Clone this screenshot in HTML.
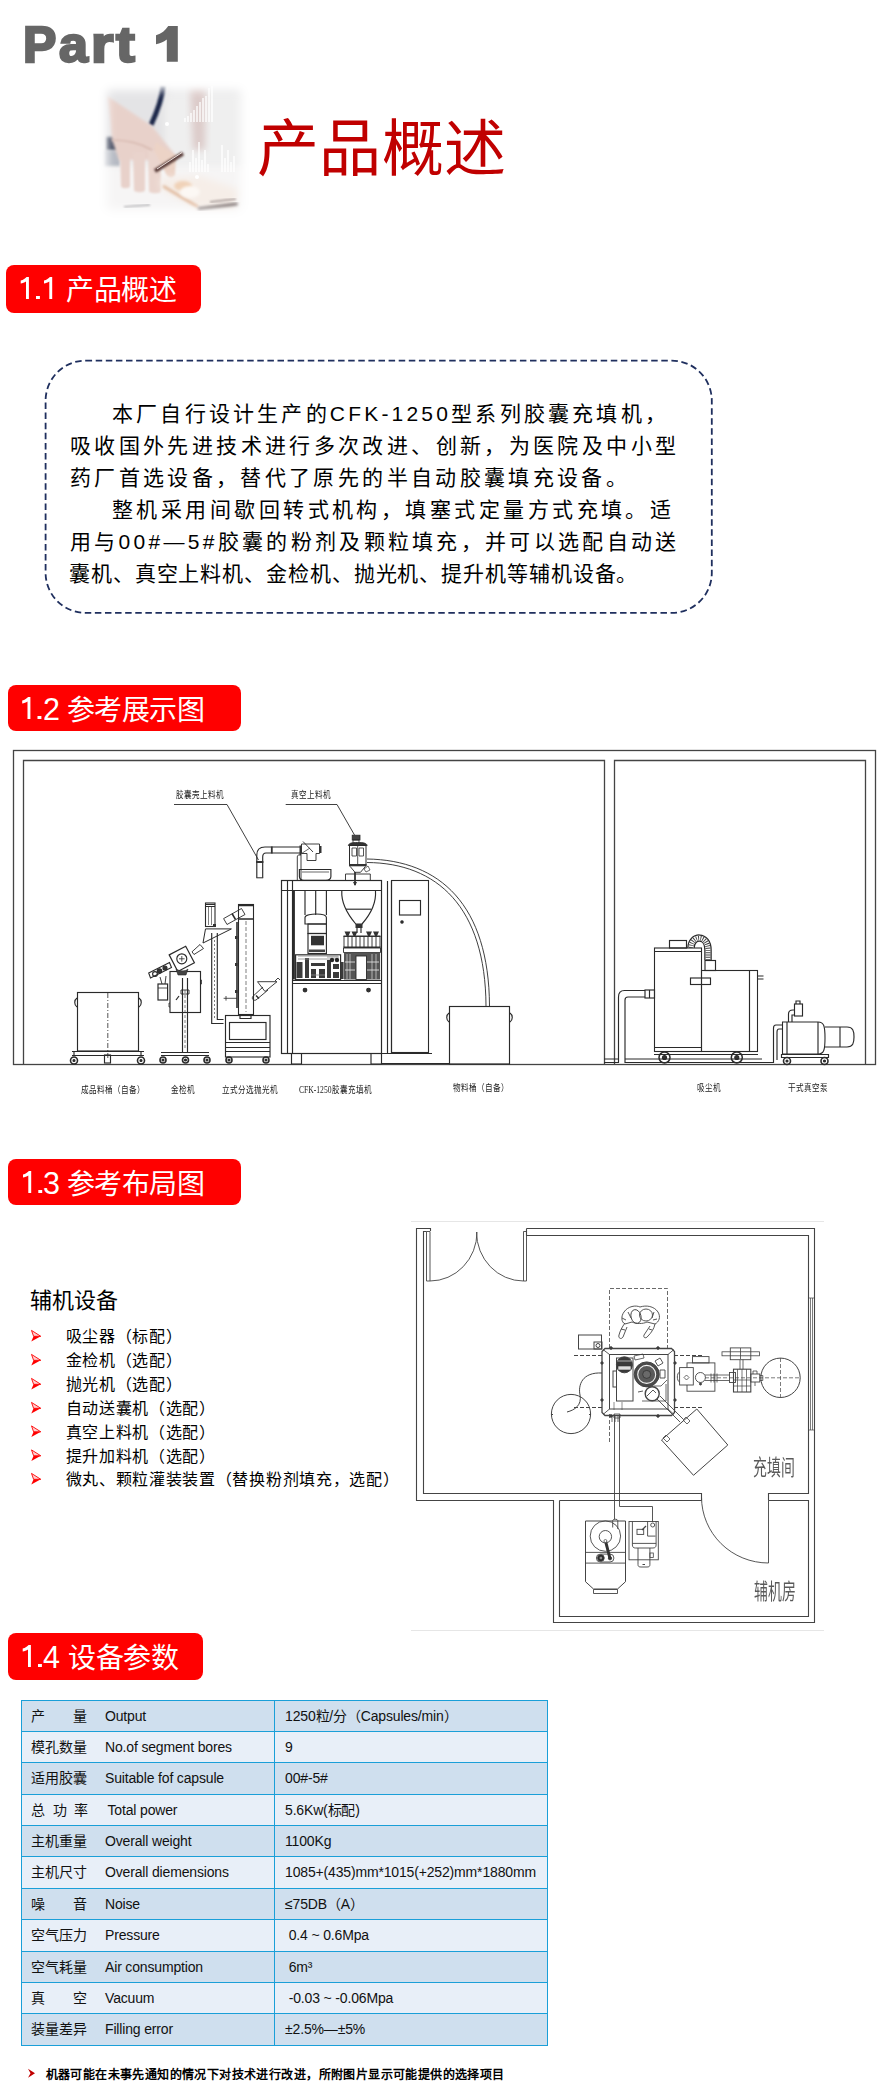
<!DOCTYPE html>
<html lang="zh-CN"><head><meta charset="utf-8">
<style>
*{margin:0;padding:0;box-sizing:border-box}
html,body{width:888px;height:2095px;background:#fff;overflow:hidden}
body{position:relative;font-family:"Liberation Sans",sans-serif;color:#000}
.abs{position:absolute}
#part{left:0;top:16px;font-size:50px;font-weight:bold;color:#666;white-space:nowrap;-webkit-text-stroke:2.4px #666}
#part span{position:absolute;top:0}
#photo{left:100px;top:84px;width:146px;height:132px}
#title{left:257px;top:99px;font-size:62px;color:#c00000;white-space:nowrap;letter-spacing:0.3px}
.tag{position:absolute;background:#ff0000;color:#fff;border-radius:8px;white-space:nowrap}
.tag b{position:absolute;top:3.5px;font-weight:normal;font-size:30.5px;line-height:40px}
.tag i{position:absolute;top:6px;font-style:normal;font-size:28px;line-height:40px;letter-spacing:-0.6px}
#intro{left:45px;top:360px;width:667px;height:253px;border:1.5px dashed #2c4775;border-radius:42px}
.pl{position:absolute;font-size:21px;line-height:32px;letter-spacing:3.2px;color:#000;white-space:nowrap}
.lb{position:absolute;font-family:"Liberation Serif",serif;font-size:9.5px;line-height:12px;color:#1a1a1a;white-space:nowrap;transform:scaleX(0.8);transform-origin:0 0}
.rm{position:absolute;font-family:"Liberation Serif",serif;font-size:22px;font-weight:300;line-height:26px;color:#5a5a5a;white-space:nowrap;transform:scaleX(0.63);transform-origin:0 0}
.li{position:absolute;font-weight:350;left:65.5px;margin-top:1px;font-size:16px;line-height:24px;letter-spacing:0.7px;white-space:nowrap;color:#000}
.tr{position:absolute;left:21px;width:527px;font-size:14px;letter-spacing:-0.16px;white-space:nowrap;color:#111}
.tr span{position:absolute;top:0;line-height:inherit}
.c1{left:10px}.c2{left:84px}.c3{left:264px}
.hl{position:absolute;left:21px;width:527px;height:1px;background:#1a9fd8}
.vl{position:absolute;top:1700px;width:1px;height:346px;background:#1a9fd8}
</style></head><body>
<div id="part" class="abs"><span style="left:23px">P</span><span style="left:58.5px;transform:scaleX(1.04);transform-origin:left">a</span><span style="left:90.5px;transform:scaleX(1.15);transform-origin:left">r</span><span style="left:116px;transform:scaleX(1.13);transform-origin:left">t</span></div>
<svg class="abs" style="left:95px;top:80px" width="160" height="140" viewBox="95 80 160 140">
<defs>
<filter id="b1" x="-30%" y="-30%" width="160%" height="160%"><feGaussianBlur stdDeviation="5"/></filter>
<filter id="b2" x="-30%" y="-30%" width="160%" height="160%"><feGaussianBlur stdDeviation="1.6"/></filter>
<filter id="b3" x="-30%" y="-30%" width="160%" height="160%"><feGaussianBlur stdDeviation="0.8"/></filter>
<filter id="b4" x="-30%" y="-30%" width="160%" height="160%"><feGaussianBlur stdDeviation="3.5"/></filter>
<mask id="m1"><rect x="95" y="80" width="160" height="140" fill="#000"/><rect x="107" y="90" width="134" height="120" rx="4" fill="#fff" filter="url(#b1)"/></mask>
</defs>
<g mask="url(#m1)">
<rect x="95" y="80" width="160" height="140" fill="#ebebec"/>
<rect x="100" y="84" width="70" height="60" fill="#e4e4e6" filter="url(#b4)"/>
<rect x="165" y="95" width="80" height="70" fill="#efefef" filter="url(#b4)"/>
<rect x="100" y="165" width="150" height="55" fill="#f6f5f5" filter="url(#b4)"/>
<!-- arm top right -->
<path d="M190 86L206 86L205 150L193 150Z" fill="#dccbc9" filter="url(#b4)"/>
<!-- teal line top right -->
<path d="M214 95H241" stroke="#7d98a4" stroke-width="2.5" filter="url(#b3)"/>
<!-- sleeve dark -->
<rect x="106" y="137" width="12" height="14" fill="#3a4258" filter="url(#b2)"/>
<rect x="104" y="150" width="16" height="16" fill="#b5b9c2" filter="url(#b2)"/>
<!-- navy stripe -->
<path d="M163 86C162 100 157 112 151 125" stroke="#1b2848" stroke-width="5" fill="none" filter="url(#b3)"/>
<!-- hand -->
<path d="M107 96L152 126L176 156L170 166L150 160L130 160L119 160L112 140L110 118Z" fill="#e8d1ca" filter="url(#b2)"/>
<path d="M120 150L130 150L130 186C130 189 121 189 121 186Z" fill="#e8d1ca" filter="url(#b3)"/>
<path d="M133 152L145 152L145 190C145 193 134 193 134 190Z" fill="#e9d3cc" filter="url(#b3)"/>
<path d="M148 150L161 152L161 191C161 194 149 194 149 191Z" fill="#ead5ce" filter="url(#b3)"/>
<path d="M156 142L176 156L175 175C172 179 168 178 166 174L154 150Z" fill="#ecd3c6" filter="url(#b3)"/>
<path d="M112 140C125 140 140 143 152 150" stroke="#d7b9b0" stroke-width="1.5" fill="none" filter="url(#b3)"/>
<!-- pen -->
<path d="M155 171L183 153.5" stroke="#5a3d3a" stroke-width="4" filter="url(#b3)"/>
<path d="M157 169L182 152.5" stroke="#e8dcd8" stroke-width="1"/>
<!-- tablet glow -->
<path d="M160 178L200 176L240 190L235 210L200 210L162 190Z" fill="#f6eee8" filter="url(#b4)"/>
<path d="M163 186L198 207" stroke="#dcae8c" stroke-width="2.2" filter="url(#b2)"/>
<ellipse cx="183" cy="186" rx="9" ry="5" fill="#f0d2b8" filter="url(#b2)"/>
<ellipse cx="190" cy="192" rx="10" ry="6" fill="#fcf8f4" filter="url(#b2)"/>
<path d="M198 209L238 204" stroke="#6e6262" stroke-width="3" filter="url(#b2)"/>
<path d="M210 202L236 199" stroke="#9a8c8a" stroke-width="1.5" filter="url(#b3)"/>
<path d="M124 207L150 205" stroke="#9a9a9e" stroke-width="1.5" filter="url(#b3)"/>
<!-- chart bars -->
<g stroke="#fff" stroke-width="1.3">
<path d="M185 122V118M188 122V116M191 122V113M194 122V110M197 122V106M200 122V102M203 122V98M206 122V96M209 122V88M212 122V86"/>
<path d="M190 172V162M193 172V150M196 172V158M199 172V142M202 172V160M205 172V150M208 172V164M222 172V145M225 172V158M228 172V150M231 172V162M234 172V156"/>
</g>
<circle cx="167" cy="124" r="2" fill="#fff"/><circle cx="197" cy="177" r="2" fill="#fff"/>
</g>
</svg>

<svg class="abs" style="left:150px;top:20px" width="40" height="50" viewBox="150 20 40 50"><path d="M177.8 26V61.8H166.8V39.5C163.5 42 160 43.2 156 44.2V35.2C161.5 33.5 165.5 30.5 168.2 26Z" fill="#666"/></svg>
<div id="title" class="abs">产品概述</div>

<svg class="abs" style="left:0;top:0" width="888" height="700"><rect x="45.6" y="360.6" width="666.2" height="252.3" rx="40" fill="none" stroke="#1f2f5e" stroke-width="1.8" stroke-dasharray="6.5 3.6"/></svg>
<div class="pl" style="left:112px;top:398px">本厂自行设计生产的CFK-1250型系列胶囊充填机，</div>
<div class="pl" style="left:70px;top:430px;letter-spacing:3.37px">吸收国外先进技术进行多次改进、创新，为医院及中小型</div>
<div class="pl" style="left:70px;top:462px;letter-spacing:3.35px">药厂首选设备，替代了原先的半自动胶囊填充设备。</div>
<div class="pl" style="left:112px;top:494px;letter-spacing:3.45px">整机采用间歇回转式机构，填塞式定量方式充填。适</div>
<div class="pl" style="left:70px;top:526px;letter-spacing:3.3px">用与00#—5#胶囊的粉剂及颗粒填充，并可以选配自动送</div>
<div class="pl" style="left:69px;top:558px;letter-spacing:0.9px">囊机、真空上料机、金检机、抛光机、提升机等辅机设备。</div>


<div class="tag" style="left:6px;top:265px;width:195px;height:48px"><svg style="position:absolute;left:0;top:0" width="60" height="48"><path d="M22.9 12V34H20.0V16.6C18.5 17.6 16.5 18.3 14.7 18.6V15.6C17.3 14.8 19.3 13.6 20.6 12Z M46.2 12V34H43.3V16.6C41.8 17.6 39.8 18.3 38.0 18.6V15.6C40.6 14.8 42.6 13.6 43.9 12Z M30.0 30.9h3.9v3.1h-3.9z" fill="#fff"/></svg><i style="left:60.4px">产品概述</i></div>
<div class="tag" style="left:8.4px;top:685.4px;width:232.3px;height:46px"><svg style="position:absolute;left:0;top:0" width="60" height="48"><path d="M22.4 12V34H19.5V16.6C18.0 17.6 16.0 18.3 14.200000000000001 18.6V15.6C16.8 14.8 18.8 13.6 20.1 12Z M29.5 30.9h3.9v3.1h-3.9z" fill="#fff"/></svg><b style="left:34.5px">2</b><i style="left:58.6px">参考展示图</i></div>
<div class="tag" style="left:7.6px;top:1159.3px;width:233.1px;height:46.2px"><svg style="position:absolute;left:0;top:0" width="60" height="48"><path d="M23.2 12V34H20.3V16.6C18.8 17.6 16.8 18.3 15.000000000000002 18.6V15.6C17.6 14.8 19.6 13.6 20.9 12Z M30.3 30.9h3.9v3.1h-3.9z" fill="#fff"/></svg><b style="left:35.3px">3</b><i style="left:59.4px">参考布局图</i></div>
<div class="tag" style="left:7.9px;top:1633.4px;width:195.4px;height:47.1px"><svg style="position:absolute;left:0;top:0" width="60" height="48"><path d="M22.9 12V34H20.0V16.6C18.5 17.6 16.5 18.3 14.700000000000001 18.6V15.6C17.3 14.8 19.3 13.6 20.6 12Z M30.0 30.9h3.9v3.1h-3.9z" fill="#fff"/></svg><b style="left:35.0px">4</b><i style="left:60.5px">设备参数</i></div>
<div class="abs" style="left:29.5px;top:1286px;font-weight:350;font-size:22px;line-height:30px;white-space:nowrap;color:#000">辅机设备</div>
<div class="li" style="top:1324px">吸尘器（标配）</div>
<div class="li" style="top:1348px">金检机（选配）</div>
<div class="li" style="top:1372px">抛光机（选配）</div>
<div class="li" style="top:1396px">自动送囊机（选配）</div>
<div class="li" style="top:1419.5px">真空上料机（选配）</div>
<div class="li" style="top:1443.5px">提升加料机（选配）</div>
<div class="li" style="top:1467px">微丸、颗粒灌装装置（替换粉剂填充，选配）</div>
<svg class="abs" style="left:0;top:1300px" width="60" height="200"><path d="M31.5 30.4L40.8 36.3L33.6 36.3Z" fill="#ffd0d0" stroke="#ff0000" stroke-width="0.9" stroke-linejoin="round"/><path d="M33.6 36.3L40.8 36.3L31.3 41.5Z" fill="#ff0000"/><path d="M31.5 54.4L40.8 60.3L33.6 60.3Z" fill="#ffd0d0" stroke="#ff0000" stroke-width="0.9" stroke-linejoin="round"/><path d="M33.6 60.3L40.8 60.3L31.3 65.5Z" fill="#ff0000"/><path d="M31.5 78.4L40.8 84.3L33.6 84.3Z" fill="#ffd0d0" stroke="#ff0000" stroke-width="0.9" stroke-linejoin="round"/><path d="M33.6 84.3L40.8 84.3L31.3 89.5Z" fill="#ff0000"/><path d="M31.5 102.4L40.8 108.3L33.6 108.3Z" fill="#ffd0d0" stroke="#ff0000" stroke-width="0.9" stroke-linejoin="round"/><path d="M33.6 108.3L40.8 108.3L31.3 113.5Z" fill="#ff0000"/><path d="M31.5 125.9L40.8 131.8L33.6 131.8Z" fill="#ffd0d0" stroke="#ff0000" stroke-width="0.9" stroke-linejoin="round"/><path d="M33.6 131.8L40.8 131.8L31.3 137.0Z" fill="#ff0000"/><path d="M31.5 149.9L40.8 155.8L33.6 155.8Z" fill="#ffd0d0" stroke="#ff0000" stroke-width="0.9" stroke-linejoin="round"/><path d="M33.6 155.8L40.8 155.8L31.3 161.0Z" fill="#ff0000"/><path d="M31.5 173.4L40.8 179.3L33.6 179.3Z" fill="#ffd0d0" stroke="#ff0000" stroke-width="0.9" stroke-linejoin="round"/><path d="M33.6 179.3L40.8 179.3L31.3 184.5Z" fill="#ff0000"/></svg>
<svg class="abs" style="left:0;top:2060px" width="50" height="30"><path d="M28 8.8 L35 13.2 L28 17.8 L30.5 13.2Z" fill="#c00000"/></svg>
<div class="abs" style="left:45.5px;top:2065.5px;font-size:12px;letter-spacing:0.41px;line-height:18px;font-weight:bold;white-space:nowrap;color:#000">机器可能在未事先通知的情况下对技术进行改进，所附图片显示可能提供的选择项目</div>
<svg class="abs" style="left:0;top:740px" width="888" height="370" viewBox="0 740 888 370" fill="none" stroke="#2a2a2a" stroke-width="1.15">
<!-- frames -->
<rect x="13.5" y="750.5" width="862" height="314" stroke="#444" stroke-width="1.3"/>
<path d="M23.5 1064.5V760.5H604.5V1064.5M614.5 1064.5V760.5H865.5V1064.5" stroke="#444" stroke-width="1.3"/>
<!-- label lines -->
<path d="M174 804.5H227L258.5 860M285.7 804.5H337L354.5 835" stroke-width="0.9"/>
<!-- bin 成品料桶 -->
<rect x="77.5" y="992.5" width="61" height="58.5"/>
<path d="M107.8 993V1058" stroke-dasharray="5 2 1 2" stroke-width="0.8"/>
<path d="M77 998c-3 2-3 7 0 9M139 998c3 2 3 7 0 9"/>
<path d="M72 1051.5H144M72 1055.5H144M74 1051v5M141 1051v5"/>
<circle cx="74" cy="1060.5" r="3.5" stroke-width="1.6"/><circle cx="74" cy="1060.5" r="1" fill="#222"/><circle cx="141" cy="1060.5" r="3.5" stroke-width="1.6"/><circle cx="141" cy="1060.5" r="1" fill="#222"/><rect x="104.5" y="1055" width="6" height="8"/>
<!-- metal detector 金检机 -->
<rect x="170" y="971.5" width="30.5" height="41"/>
<path d="M170 1003h-1v4h1M200.5 980h1v4h-1" stroke-width="0.8"/>
<path d="M182.5 978V1052M187.5 978V1052" />
<path d="M185 990V1050" stroke-dasharray="3 2" stroke-width="0.6"/>
<path d="M181 990h8v4h-8z" stroke-width="0.9"/>
<path d="M179 996l-3 4" stroke-width="1.2"/>
<path d="M161 1052.5H209M161 1055.5H209"/>
<circle cx="163" cy="1060" r="3" stroke-width="1.6"/><circle cx="163" cy="1060" r="1" fill="#222"/><circle cx="207" cy="1060" r="3" stroke-width="1.6"/><circle cx="207" cy="1060" r="1" fill="#222"/><circle cx="185.5" cy="1060" r="3" stroke-width="1.6"/><circle cx="185.5" cy="1060" r="1" fill="#222"/>
<path d="M169.2 954.9L185.7 946.2L194.4 962.8L177.8 971.5Z" stroke-width="1.2"/>
<circle cx="181.8" cy="958.8" r="5"/><path d="M179 958.8h5.6M181.8 956v5.6" stroke-width="0.8"/>
<path d="M148.7 973L169.5 962.5L171.5 967.5L150.5 978Z" stroke-width="1.1"/>
<circle cx="159.5" cy="971" r="2.2" fill="#333"/><circle cx="165" cy="968" r="2" fill="#333"/><circle cx="155" cy="974" r="2.4"/>
<path d="M176 969c3 2 9 3 12 0l-2 6h-8z" fill="#444" stroke-width="0.6"/>
<path d="M160 977l2 7M166 976l-1 8" stroke-width="0.9"/>
<rect x="158" y="984" width="9.6" height="16" stroke-width="1.2"/><path d="M158 988h9.6" stroke-width="0.8"/>
<path d="M192 951.8L200 944.5L203.5 948.5L194 954.5Z" stroke-width="0.9"/>
<!-- polisher 立式分选抛光机 -->
<rect x="205.5" y="903" width="9.5" height="23.5" stroke-width="1.1"/>
<path d="M205.5 904.5h9.5M205.5 906.5h9.5" stroke-width="1.2"/>
<path d="M208.5 907V925M211.5 907V925" stroke-width="0.6"/>
<rect x="213" y="924" width="3" height="3" fill="#333" stroke="none"/>
<path d="M203 943L231.4 928.9H205.5L203 943" stroke-width="1"/>
<path d="M211.7 933V1023.5H223.5M217.3 933V1019.5H223.5"/>
<path d="M214.5 940V1018" stroke-dasharray="2 2" stroke-width="0.6"/>
<rect x="238.5" y="904.5" width="15" height="110" stroke-width="1.1"/>
<path d="M238.5 905.5h15M238.5 919h15" stroke-width="1.6"/>
<path d="M246 921V1012" stroke-dasharray="4 2" stroke-width="0.6"/>
<path d="M237 922V1008" stroke-width="2" stroke="#555"/>
<rect x="235" y="936" width="2.5" height="3" fill="#333" stroke="none"/><rect x="235" y="963" width="2.5" height="3" fill="#333" stroke="none"/><rect x="235" y="990" width="2.5" height="3" fill="#333" stroke="none"/>
<path d="M240 1014.5v4h11v-4" />
<path d="M223.6 918.6L241.5 908.5L245 914.5L227 924.5Z" stroke-width="0.9"/>
<path d="M232 913.5l3.5 6" stroke-width="1.5"/>
<path d="M223.6 998.3H237M226 996v4.6" stroke-width="0.8"/>
<path d="M257.5 981.7H277L265 991.5Z" stroke-width="0.9"/>
<path d="M263 987L252.7 996.5C251.5 999 253.5 1001 256 1000L268 990" stroke-width="0.9"/>
<path d="M256 995.5l3 3" stroke-width="1.4"/>
<path d="M275 981l3 -3l2 2" stroke-width="0.9"/>
<rect x="225.5" y="1015.5" width="44.5" height="41.5"/>
<rect x="229.5" y="1022.5" width="36.5" height="17"/>
<path d="M225.5 1042.5H270M225.5 1047.5H270M225.5 1051.5H270"/>
<circle cx="229" cy="1060" r="3" stroke-width="1.6"/><circle cx="229" cy="1060" r="1" fill="#222"/><circle cx="266" cy="1060" r="3" stroke-width="1.6"/><circle cx="266" cy="1060" r="1" fill="#222"/>
<!-- main machine CFK-1250 -->
<rect x="281.5" y="880.5" width="100" height="173" stroke-width="1.2"/>
<path d="M287.5 881V1053M292.5 881V1053M282 890.5H381M293 980.5H381M293 983.5H381"/>
<path d="M387.5 881V1053M391.5 881V1053"/>
<rect x="391.5" y="880.5" width="37" height="172" stroke-width="1.1"/>
<rect x="399.5" y="900.5" width="21" height="14.5"/>
<circle cx="402" cy="922" r="1.2" fill="#333"/>
<circle cx="305" cy="990" r="1.8" fill="#333"/><circle cx="368.5" cy="990" r="1.8" fill="#333"/>
<path d="M291.5 1053.5v10.5h10v-10.5M371 1053.5v10.5h10.5v-10.5M382 1053.5h50"/>
<!-- hopper -->
<path d="M341.8 891C341 905 349 916 355.8 924H362C369 916 376.5 905 375.5 891"/>
<path d="M346 909.2H371"/>
<rect x="355.5" y="924" width="7" height="4" fill="#333" stroke="none"/>
<path d="M357 928V933M361 928V933"/>
<!-- dosing -->
<g fill="#333" stroke="none">
<path d="M344.5 931.5h6l-2 4.5h-2z"/><path d="M351.5 931.5h6l-2 4.5h-2z"/><path d="M366 931.5h6l-2 4.5h-2z"/><path d="M373 931.5h6l-2 4.5h-2z"/>
<rect x="343.5" y="935.5" width="37" height="1.5"/>
<rect x="343.5" y="946.5" width="37" height="1.5"/>
</g>
<path d="M344 936V947.5M348 936V947.5M352 936V947.5M356 936V947.5M360 936V947.5M364 936V947.5M368 936V947.5M372 936V947.5M376 936V947.5M380 936V947.5" stroke-width="0.9"/>
<path d="M343.5 948h37v4.5h-37z" stroke-width="0.9"/>
<rect x="344" y="952.5" width="36" height="27" fill="#555" stroke="none"/>
<rect x="356" y="956" width="10.5" height="23.5" fill="#fff" stroke-width="0.9"/>
<path d="M347 954v25M350 954v25M372 954v25M376 954v25" stroke="#ddd" stroke-width="0.7"/>
<path d="M345 962h10M367 962h12M345 970h10M367 970h12" stroke="#eee" stroke-width="0.8"/>
<!-- left mechanism -->
<path d="M293.9 891V979.5" stroke-width="2"/>
<path d="M305 891V915M315.7 891V915M326.4 891V915"/>
<path d="M305 924V917.5C305 915 312 914 316 914C321 914 326.4 915 326.4 917.5V924Z"/>
<rect x="308" y="924" width="18.4" height="9.5"/>
<rect x="308" y="933.5" width="18.4" height="20"/>
<rect x="311" y="935.8" width="13" height="9.5" fill="#333" stroke="none"/>
<rect x="309" y="949.5" width="16" height="2.5" fill="#444" stroke="none"/>
<rect x="295.6" y="954.8" width="45" height="24.8" fill="#fff"/>
<g fill="#3a3a3a" stroke="none">
<rect x="296.5" y="962" width="6" height="16"/>
<rect x="305" y="958" width="4" height="20"/>
<rect x="311" y="963" width="14" height="3"/>
<rect x="311" y="969" width="5" height="9"/>
<rect x="319" y="969" width="6" height="9"/>
<rect x="327" y="960" width="4" height="18"/>
<rect x="333" y="964" width="6" height="5"/>
<rect x="333" y="972" width="6" height="6"/>
<rect x="340.6" y="962" width="3" height="17"/>
</g>
<path d="M298 956h40M298 959h40M311 975h14M327 957h12" stroke="#888" stroke-width="0.8"/>
<circle cx="332" cy="960" r="1.6" fill="#222"/><circle cx="337" cy="960" r="1.6" fill="#222"/>
<!-- vacuum loader -->
<rect x="352.2" y="835.2" width="7.8" height="4.8" fill="#444" stroke-width="0.8"/>
<path d="M353 840h6v4h-6z" stroke-width="0.8"/>
<path d="M348.3 845.5C349 843 352 842.5 357.7 842.5C363.5 842.5 366.5 843 367.2 845.5Z" fill="#333" stroke-width="0.8"/>
<rect x="349.5" y="845.5" width="16.5" height="19.7" stroke-width="1"/>
<path d="M352 848h4.5v8h-4.5zM359 848h4.5v8h-4.5zM357.7 846v19" stroke-width="0.8"/>
<rect x="349" y="864" width="17.5" height="2.3" fill="#333" stroke="none"/>
<path d="M350 866.3L355 872.3H360.5L365.5 866.3" stroke-width="0.9"/>
<path d="M364 869l4 -3l2 4l-4 2z" stroke-width="0.7"/>
<path d="M345.5 874h24.8v6.5h-24.8z" stroke-width="0.9"/>
<path d="M355 872V885" stroke-width="1.8" stroke="#333"/>
<path d="M353 882l2 4l2 -4z" fill="#333" stroke="none"/>
<!-- capsule feeder -->
<path d="M256.8 877.8V855C256.8 850 260 847 265 847H301M262.7 877.8V857C262.7 854.5 263.5 853 266 853H301"/>
<path d="M256.3 877.8H263.2" stroke-width="1"/>
<path d="M256 862h7.4" stroke-width="2" stroke="#333"/>
<path d="M271.8 846.5v7" stroke-width="1.8" stroke="#333"/>
<path d="M300.5 845.5v9.5" stroke-width="2" stroke="#333"/>
<path d="M301.5 844H319.5V853.5H316V860.5H307V853.5H301.5Z" stroke-width="0.9"/>
<path d="M303 841.5L313 852" stroke-width="0.9"/>
<path d="M301.5 853.5L310 848" stroke-width="0.7"/>
<path d="M320.5 846v7" stroke-width="2" stroke="#333"/>
<path d="M297.3 880V857C297.3 855.5 298 855 299 855H301V880" stroke-width="0.9"/>
<path d="M299.4 869.5H330.9V876.5C330.9 879 329 880.2 326 880.2H304C301 880.2 299.4 879 299.4 876.5Z"/>
<path d="M302 872h27" stroke-width="0.7"/>
<!-- hose to material bin -->
<path d="M367 859C440 860 489 905 489.5 1006M367 862.5C437 863 485.5 907 486 1006" stroke-width="0.9"/>
<!-- material bin -->
<rect x="449.5" y="1006.5" width="60" height="57.5"/>
<path d="M449 1013c-3 2-3 7 0 9M510 1013c3 2 3 7 0 9"/>
<path d="M382 1063.5H449"/>
<!-- dust collector -->
<rect x="654.5" y="948" width="47" height="103.5" stroke-width="1.1"/>
<path d="M654.5 951.5H701.5M654.5 1047.5H701.5"/>
<rect x="669.5" y="940.5" width="17" height="7.5"/>
<rect x="701.5" y="970.5" width="56" height="81" stroke-width="1.1"/>
<path d="M749.5 971V1051M757.5 976h6M757.5 979h6"/>
<rect x="690.5" y="978" width="20" height="6.5"/>
<path d="M691 948C691 935 708 934 708 950V960" stroke="#2a2a2a" stroke-width="7.5"/>
<path d="M691 948C691 935 708 934 708 950V960" stroke="#fff" stroke-width="5"/>
<path d="M691 948C691 935 708 934 708 950V960" stroke="#444" stroke-width="5" stroke-dasharray="0.9 1.3"/>
<rect x="705" y="960.5" width="10.5" height="10"/>
<path d="M654 1051.5h104M654 1054.5h104"/>
<circle cx="664.5" cy="1057.5" r="5.5" stroke-width="1.5"/><circle cx="664.5" cy="1057.5" r="2" fill="#333"/>
<circle cx="736.8" cy="1057.5" r="5.5" stroke-width="1.5"/><circle cx="736.8" cy="1057.5" r="2" fill="#333"/>
<!-- pipe from left to dust collector -->
<path d="M618.5 1063V997C618.5 993 620.5 990.5 624.5 990.5H645M625 1063V1000C625 998 626 997 628 997H645"/>
<rect x="645" y="990" width="9.5" height="8"/><path d="M649.5 990v8"/>
<path d="M604 1062.5h14M625 1062.5H773.5M604 1059h14M625 1059H762"/>
<!-- vacuum pump -->
<path d="M782.5 1022H818C824 1022 825 1026 825 1038C825 1050 824 1054 818 1054H782.5Z" stroke-width="1.1"/>
<path d="M818 1022V1054M787 1022V1054"/>
<path d="M825 1027H847C853 1027 854 1031 854 1037C854 1043 853 1047 847 1047H825"/>
<path d="M840 1027V1047"/>
<path d="M781.5 1054.5h47v3h-47z"/>
<circle cx="787" cy="1061" r="3.5" stroke-width="1.6"/><circle cx="787" cy="1061" r="1" fill="#222"/><circle cx="824.5" cy="1061" r="3.5" stroke-width="1.6"/><circle cx="824.5" cy="1061" r="1" fill="#222"/>
<rect x="794.5" y="1004" width="8" height="12"/>
<path d="M796 1004v-3h4v3M788.5 1022V1014C788.5 1011 790 1010 793 1010H795M792 1022V1015h3"/>
<path d="M782.5 1025H776C774 1025 773.5 1026 773.5 1028V1063M782.5 1029H779C777.5 1029 777 1030 777 1032V1060" />
</svg>
<div class="lb" style="left:176.2px;top:789px">胶囊壳上料机</div>
<div class="lb" style="left:290.7px;top:789px">真空上料机</div>
<div class="lb" style="left:80.5px;top:1083.5px">成品料桶（自备）</div>
<div class="lb" style="left:171.2px;top:1083.5px">金检机</div>
<div class="lb" style="left:221.8px;top:1083.5px">立式分选抛光机</div>
<div class="lb" style="left:298.6px;top:1083.5px">CFK-1250胶囊充填机</div>
<div class="lb" style="left:452.6px;top:1082px">物料桶（自备）</div>
<div class="lb" style="left:696.7px;top:1082px">吸尘机</div>
<div class="lb" style="left:787.9px;top:1082px">干式真空泵</div>
<div class="rm" style="left:753px;top:1455px">充填间</div>
<div class="rm" style="left:754px;top:1579px">辅机房</div>
<svg class="abs" style="left:400px;top:1210px" width="440" height="430" viewBox="400 1210 440 430" fill="none" stroke="#444" stroke-width="1">
<path d="M411 1221.5H824M411 1630.5H824" stroke="#e6e6e6"/>
<!-- walls upper room -->
<path d="M526.5 1228.5H814.5V1622.5H553.5V1500.5H416.5V1228.5H430.5V1231" stroke-width="1.1"/>
<path d="M526.5 1228.5V1235.5H808.5V1493.5H768.5V1500.5M701.5 1500.5V1493.5H423.5V1231.5H426.5" stroke-width="1.1"/>
<path d="M559.5 1500.5H701.5M768.5 1500.5H808.5V1616.5H559.5V1500.5" stroke-width="1.1"/>
<!-- window right -->
<path d="M810.5 1298V1430M812.5 1298V1430M808.5 1298H814.5M808.5 1430H814.5" stroke-width="0.7"/>
<!-- door top -->
<path d="M426.5 1231.5V1281H430V1231.5ZM523.5 1231.5V1281H526.5V1231.5Z" stroke-width="0.9"/>
<path d="M430 1281A47 49 0 0 0 477 1232M523.5 1281A47 49 0 0 1 476.5 1232" stroke-width="0.9"/>
<!-- door lower -->
<path d="M768.5 1500.5V1563M701.5 1497A67 66 0 0 0 768.5 1563" stroke-width="0.9"/>
<!-- operator dashed area -->
<path d="M609.5 1348V1288.5H667.5V1348" stroke-dasharray="4 2" stroke-width="0.8"/>
<!-- operator figure -->
<g stroke-width="0.9">
<path d="M624 1312C628 1306 636 1305 640 1307C646 1305 654 1306 658 1312C661 1317 659 1322 655 1324L647 1322C643 1324 636 1324 632 1322L625 1324C621 1322 621 1316 624 1312Z"/>
<ellipse cx="636" cy="1316.5" rx="5" ry="7" transform="rotate(-15 636 1316.5)"/><ellipse cx="646" cy="1315" rx="6.5" ry="6"/>
<path d="M628 1312l3 6M654 1312l-2 6M622 1318l4 2M657 1319l-4 1"/>
<path d="M625 1323C622 1327 620 1331 619 1335C618 1338 621 1340 623 1337L627 1327"/>
<path d="M655 1324C654 1329 651 1333 648 1336C646 1339 643 1338 644 1335L650 1326"/>
<path d="M621 1329l4 1M652 1330l-3 -1"/>
</g>
<!-- small box top-left -->
<rect x="578.5" y="1335" width="23" height="14"/>
<rect x="594" y="1342" width="8" height="7"/><circle cx="598" cy="1345.5" r="2"/>
<!-- dashed horizontals -->
<path d="M574 1355.5H602M674 1355.5H703M574 1407.5H602M674 1407.5H703" stroke-dasharray="4 2" stroke-width="1"/>
<path d="M609.5 1414V1444" stroke-dasharray="4 2" stroke-width="0.8"/>
<!-- machine square -->
<path d="M605 1348.5H671.5L674.5 1351.5V1412.5L671.5 1415.5H605L602 1412.5V1351.5Z" stroke-width="1.3"/>
<rect x="609.5" y="1354.5" width="58.5" height="54.5" stroke-width="1"/>
<path d="M603 1349.5L609.5 1354.5M674 1349.5L668 1354.5M603 1414.5L609.5 1409M674 1414.5L668 1409" stroke-width="0.9"/>
<circle cx="611" cy="1348" r="1.3" fill="#333"/><circle cx="658" cy="1348" r="1.3" fill="#333"/><circle cx="602" cy="1363" r="1.2" fill="#333"/><circle cx="675" cy="1363" r="1.2" fill="#333"/><circle cx="602" cy="1400" r="1.2" fill="#333"/><circle cx="675" cy="1400" r="1.2" fill="#333"/><circle cx="611" cy="1416" r="1.3" fill="#333"/><circle cx="658" cy="1416" r="1.3" fill="#333"/>
<rect x="616.5" y="1358" width="16.5" height="43"/>
<rect x="613" y="1371" width="3.5" height="16"/>
<circle cx="624.4" cy="1364.8" r="8" fill="#3a3a3a" stroke-width="1"/>
<path d="M618 1366h13v4h-13z" fill="#ddd" stroke="#333" stroke-width="0.6"/>
<path d="M617.5 1361h14" stroke="#ccc" stroke-width="0.8"/>
<path d="M634 1356l9 -2l1 4l-9 2z" stroke-width="0.8"/>
<circle cx="646.7" cy="1374.4" r="12.5" fill="#4a4a4a" stroke-width="1"/>
<circle cx="646.7" cy="1374.4" r="9" fill="#5a5a5a" stroke="#f4f4f4" stroke-width="1.1"/>
<circle cx="646.7" cy="1374.4" r="4" fill="#6a6a6a" stroke="#222" stroke-width="0.6"/>
<path d="M655 1361l5 -3l3 5l-5 3zM660 1370h5v8h-5z" stroke-width="0.9"/>
<path d="M643 1386h18l6 -6M642 1401h24V1384" stroke-width="0.8"/>
<circle cx="652.2" cy="1393.7" r="7" fill="#fff" stroke-width="1.4"/>
<path d="M647 1396l6 -6l3 3M638 1392l5 -1" stroke-width="0.9"/>
<path d="M614 1402V1410M622 1402V1410" stroke-width="0.6"/>
<path d="M612 1416v6M615 1416v6M618 1416v6" stroke-width="0.8"/>
<!-- circle left + curve -->
<circle cx="571" cy="1414" r="19.6"/>
<path d="M551 1414.5h2M589 1414.5h2"/>
<path d="M602 1373C582 1372 578 1385 580 1395C582 1405 575 1410 567 1412"/>
<!-- right components -->
<rect x="687" y="1362.9" width="27.9" height="28.3" stroke-width="0.9"/>
<rect x="692.5" y="1356.6" width="16.5" height="6.3" stroke-width="0.9"/>
<rect x="679.6" y="1367.6" width="13.7" height="17.4" fill="#fff" stroke-width="0.9"/>
<path d="M679.6 1372c-3 1 -3 9 0 10" stroke-width="0.9"/>
<path d="M684 1377.5l2.5 -2.5l2.5 2.5l-2.5 2.5z" stroke-width="0.8"/>
<circle cx="700.4" cy="1377.5" r="5" fill="#fff" stroke-width="0.9"/><circle cx="700.5" cy="1384" r="1" fill="#333"/>
<path d="M705 1375H729.5M705 1380.5H729.5M711 1373.5v9M714 1373.5v9M717 1373.5v9" stroke-width="0.8"/>
<rect x="729.5" y="1372.5" width="6" height="10" stroke-width="0.9"/>
<rect x="733.5" y="1369.2" width="17.3" height="22.8" stroke-width="1.1"/>
<path d="M737.5 1369.2v22.8M742 1369.2v22.8M746.5 1369.2v22.8M733.5 1380h17.3M733.5 1386h17.3" stroke-width="0.7"/>
<rect x="730.3" y="1347.9" width="20.5" height="11.8" stroke-width="0.9"/>
<rect x="722" y="1351.8" width="37.5" height="4" stroke-width="0.8"/>
<path d="M740 1359.7v9.5M743 1359.7v9.5M740.5 1348v11" stroke-width="0.8"/>
<rect x="750.8" y="1374" width="9" height="8" stroke-width="0.9"/>
<path d="M753 1374v-3h4v3M755 1382v4" stroke-width="0.8"/>
<path d="M759.8 1375.5h3v5h-3" stroke-width="0.8"/>
<path d="M705 1377.8H800M780.5 1358V1398" stroke-dasharray="4 2" stroke-width="0.7"/>
<circle cx="780.5" cy="1377.8" r="19.7" stroke-width="1"/>
<!-- rotated bin -->
<path d="M661.5 1440L696.8 1409L727.8 1445L693.5 1475.3Z"/>
<path d="M666 1435l-3 3l4 4l3-3zM686 1417l-3 3l4 4l3-3z" stroke-width="0.8"/>
<path d="M657 1399L680 1422M660 1396L683 1419" stroke-width="0.9"/>
<!-- pipes to lower room -->
<path d="M614.5 1414.5V1519M619.5 1414.5V1506.5H652.5V1522" stroke-width="0.9"/>
<path d="M614 1414h6v4h-6z" stroke-width="0.8"/>
<!-- lower room machines -->
<path d="M585.5 1521H625.5V1581.7L617.5 1589H593.5L585.5 1581.7Z" stroke-width="1"/>
<path d="M585.5 1552.4H625.5M585.5 1563.1H625.5M593.5 1589.5h24v4h-24z" stroke-width="0.9"/>
<circle cx="605.4" cy="1536.1" r="15.2" stroke-width="0.9"/><circle cx="605.4" cy="1536.7" r="6.2" stroke-width="0.9"/>
<path d="M612.7 1527.5V1520.5C612.7 1518.8 617.8 1518.8 617.8 1520.5V1529" stroke-width="0.9"/>
<rect x="596.4" y="1554.1" width="17.5" height="7.9" rx="3.9" stroke-width="0.9"/>
<circle cx="600.9" cy="1558" r="3.3" fill="#222"/><rect x="599.6" y="1556.7" width="2.6" height="2.6" fill="#888" stroke="none"/>
<circle cx="610" cy="1558.3" r="1.6" fill="#333"/>
<path d="M605.5 1541L610 1558.5" stroke-width="3" stroke="#333"/>
<circle cx="605.4" cy="1541" r="1.5" fill="#fff" stroke-width="0.7"/>
<rect x="629" y="1521.5" width="29.3" height="38.3" stroke-width="0.9"/>
<path d="M632.4 1521.5V1545C632.4 1547 633.5 1548 635.5 1548H653C655 1548 656.1 1547 656.1 1545V1521.5M632.4 1543.4H656.1" stroke-width="0.9"/>
<rect x="637" y="1529.3" width="6.7" height="5.1" stroke-width="0.9"/><path d="M642 1530l4 -4" stroke-width="1.2"/>
<path d="M647.6 1521.5V1536.1H655.5" stroke-width="0.9"/>
<circle cx="652.7" cy="1525" r="2" stroke-width="0.9"/>
<path d="M638 1548V1564.5C638 1566.5 639 1567 641 1567H647C649 1567 649.9 1566.5 649.9 1564.5V1548" stroke-width="0.9"/>
<path d="M642.5 1564.5h2.5" stroke-width="1"/>
<rect x="649.9" y="1553" width="3.4" height="4.5" stroke-width="0.8"/>
</svg>
<div id="tbl">
<div class="tr" style="top:1700px;height:31px;line-height:32px;background:#cfdfee"><span class="c1">产　　量</span><span class="c2">Output</span><span class="c3">1250粒/分（Capsules/min）</span></div>
<div class="tr" style="top:1731px;height:31px;line-height:32px;background:#e8eff8"><span class="c1">模孔数量</span><span class="c2">No.of segment bores</span><span class="c3">9</span></div>
<div class="tr" style="top:1762px;height:32px;line-height:33px;background:#cfdfee"><span class="c1">适用胶囊</span><span class="c2">Suitable fof capsule</span><span class="c3">00#-5#</span></div>
<div class="tr" style="top:1794px;height:31px;line-height:32px;background:#e8eff8"><span class="c1" style="word-spacing:4px">总 功 率</span><span class="c2" style="margin-left:2.5px">Total power</span><span class="c3">5.6Kw(标配)</span></div>
<div class="tr" style="top:1825px;height:31px;line-height:32px;background:#cfdfee"><span class="c1">主机重量</span><span class="c2">Overall weight</span><span class="c3">1100Kg</span></div>
<div class="tr" style="top:1856px;height:32px;line-height:33px;background:#e8eff8"><span class="c1">主机尺寸</span><span class="c2">Overall diemensions</span><span class="c3">1085+(435)mm*1015(+252)mm*1880mm</span></div>
<div class="tr" style="top:1888px;height:31px;line-height:32px;background:#cfdfee"><span class="c1">噪　　音</span><span class="c2">Noise</span><span class="c3">≤75DB（A）</span></div>
<div class="tr" style="top:1919px;height:32px;line-height:33px;background:#e8eff8"><span class="c1">空气压力</span><span class="c2">Pressure</span><span class="c3">&nbsp;0.4 ~ 0.6Mpa</span></div>
<div class="tr" style="top:1951px;height:31px;line-height:32px;background:#cfdfee"><span class="c1">空气耗量</span><span class="c2">Air consumption</span><span class="c3">&nbsp;6m³</span></div>
<div class="tr" style="top:1982px;height:31px;line-height:32px;background:#e8eff8"><span class="c1">真　　空</span><span class="c2">Vacuum</span><span class="c3">&nbsp;-0.03 ~ -0.06Mpa</span></div>
<div class="tr" style="top:2013px;height:32px;line-height:33px;background:#cfdfee"><span class="c1">装量差异</span><span class="c2">Filling error</span><span class="c3">±2.5%—±5%</span></div>
<div class="hl" style="top:1700px"></div><div class="hl" style="top:1731px"></div><div class="hl" style="top:1762px"></div><div class="hl" style="top:1794px"></div><div class="hl" style="top:1825px"></div><div class="hl" style="top:1856px"></div><div class="hl" style="top:1888px"></div><div class="hl" style="top:1919px"></div><div class="hl" style="top:1951px"></div><div class="hl" style="top:1982px"></div><div class="hl" style="top:2013px"></div><div class="hl" style="top:2045px"></div><div class="vl" style="left:21px"></div><div class="vl" style="left:274px"></div><div class="vl" style="left:547px"></div>
</div>
</body></html>
